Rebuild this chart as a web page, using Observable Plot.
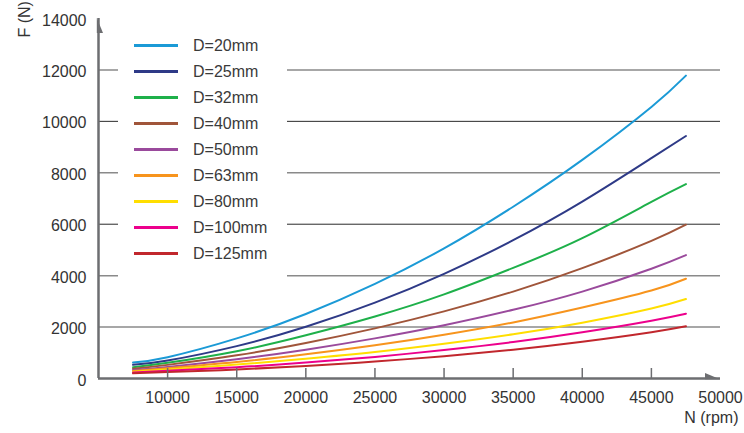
<!DOCTYPE html>
<html>
<head>
<meta charset="utf-8">
<script src="https://cdn.jsdelivr.net/npm/d3@7"></script>
<script src="https://cdn.jsdelivr.net/npm/@observablehq/plot@0.6"></script>
<style>
  body { margin: 0; background: white; }
  #wrap { position: relative; width: 744px; height: 433px; font-family: "Liberation Sans", Arial, sans-serif; }
  #legend { position: absolute; left: 118px; top: 30px; width: 169px; height: 250px; background: white; }
  .row { position: absolute; left: 0; height: 20px; width: 169px; }
  .sw { position: absolute; left: 16px; top: 8.5px; width: 44px; height: 3px; }
  .lb { position: absolute; left: 75px; top: 0; line-height: 20px; font-size: 16px; color: #3a3a3a; white-space: nowrap; }
</style>
</head>
<body>
<div id="wrap"><div id="legend"></div></div>
<script>
// Rotational speed N (rpm) sample points
const N = [7500, 10000, 15000, 20000, 25000, 30000, 35000, 40000, 45000, 47500];
// Force F (N) per diameter
const D20  = [620, 830, 1560, 2510, 3680, 5060, 6680, 8500, 10560, 11780];
const D25  = [530, 700, 1260, 2010, 2950, 4070, 5380, 6880, 8570, 9430];
const D32  = [440, 610, 1060, 1680, 2410, 3270, 4300, 5460, 6870, 7560];
const D40  = [380, 530, 900, 1380, 1950, 2610, 3380, 4290, 5350, 5980];
const D50  = [330, 450, 750, 1120, 1560, 2070, 2670, 3380, 4270, 4800];
const D63  = [290, 400, 640, 940, 1290, 1700, 2180, 2760, 3420, 3880];
const D80  = [260, 350, 540, 770, 1030, 1350, 1720, 2170, 2720, 3090];
const D100 = [230, 300, 440, 620, 840, 1110, 1420, 1800, 2250, 2520];
const D125 = [200, 250, 350, 490, 660, 870, 1120, 1430, 1800, 2030];

const seriesNames = ["D=20mm", "D=25mm", "D=32mm", "D=40mm", "D=50mm", "D=63mm", "D=80mm", "D=100mm", "D=125mm"];
const seriesValues = [D20, D25, D32, D40, D50, D63, D80, D100, D125];
const colors = ["#1b9ad6", "#2e3a87", "#1eb04a", "#a0553a", "#9a4a9c", "#f7941d", "#ffde00", "#ec008c", "#c1272d"];

const xTicks = [10000, 15000, 20000, 25000, 30000, 35000, 40000, 45000];
const xLabels = [10000, 15000, 20000, 25000, 30000, 35000, 40000, 45000, 50000];
const yLabels = [0, 2000, 4000, 6000, 8000, 10000, 12000, 14000];
const gridGray = [2000, 4000, 8000, 12000];
const gridDark = [6000, 10000];
const xLabel = "N (rpm)";
const yLabel = "F (N)";

const rows = seriesNames.flatMap((name, i) => N.map((n, j) => ({name, N: n, F: seriesValues[i][j]})));

const axisColor = "#6d6e71";
const plot = Plot.plot({
  width: 744, height: 433,
  marginLeft: 98, marginRight: 24, marginTop: 18, marginBottom: 55,
  style: {fontFamily: "'Liberation Sans', Arial, sans-serif", fontSize: "16px", color: "#333", background: "white", overflow: "visible"},
  x: {domain: [5000, 50000], axis: null, label: null},
  y: {domain: [0, 14000], axis: null, label: null},
  color: {domain: seriesNames, range: colors},
  marks: [
    Plot.ruleY(gridGray, {x1: 5000, x2: 50000, stroke: "#8a8a8a", strokeWidth: 1.5}),
    Plot.ruleY(gridDark, {x1: 5000, x2: 50000, stroke: "#2a2a2a", strokeWidth: 1}),
    Plot.line(rows, {x: "N", y: "F", z: "name", stroke: "name", strokeWidth: 2, curve: "natural"}),
    Plot.ruleX(xTicks, {y1: 0, y2: 390, stroke: axisColor, strokeWidth: 1.5}),
    Plot.ruleX([5000], {y1: 0, y2: 14000, stroke: axisColor, strokeWidth: 2.5}),
    Plot.ruleY([0], {x1: 5000, x2: 50000, stroke: axisColor, strokeWidth: 2.5}),
    Plot.axisX(xLabels, {tickSize: 0, tickPadding: 13, tickFormat: d => String(d), fontSize: 16, fill: "#333", label: null}),
    Plot.axisY(yLabels, {tickSize: 0, tickPadding: 12, tickFormat: d => String(d), fontSize: 16, fill: "#333", dy: 2, label: null}),
    Plot.text([xLabel], {frameAnchor: "bottom-right", dx: 18, dy: 44, textAnchor: "end", fontSize: 16, fill: "#333"}),
    Plot.text([yLabel], {frameAnchor: "top-left", dx: -80, dy: 19, rotate: -90, fontSize: 16, fill: "#333"})
  ]
});

// arrowheads drawn with the plot's own scales
const sx = plot.scale("x"), sy = plot.scale("y");
const x0 = sx.apply(5000), x1 = sx.apply(50000), y0 = sy.apply(0), yTop = sy.apply(14000);
const svg = d3.select(plot);
svg.append("path").attr("d", `M${x0 - 1.2},${yTop} L${x0 + 5},${yTop + 15} L${x0 - 1.2},${yTop + 15} Z`).attr("fill", axisColor);
svg.append("path").attr("d", `M${x1},${y0 + 1.2} L${x1 - 15},${y0 - 5} L${x1 - 15},${y0 + 1.2} Z`).attr("fill", axisColor);

document.getElementById("wrap").prepend(plot);
plot.style.position = "absolute"; plot.style.left = "0"; plot.style.top = "0";

// legend overlay
const legend = document.getElementById("legend");
seriesNames.forEach((name, i) => {
  const row = document.createElement("div");
  row.className = "row";
  row.style.top = (5.7 + i * 26) + "px";
  const sw = document.createElement("div");
  sw.className = "sw"; sw.style.background = colors[i];
  const lb = document.createElement("div");
  lb.className = "lb"; lb.textContent = name;
  row.appendChild(sw); row.appendChild(lb);
  legend.appendChild(row);
});
</script>
</body>
</html>
